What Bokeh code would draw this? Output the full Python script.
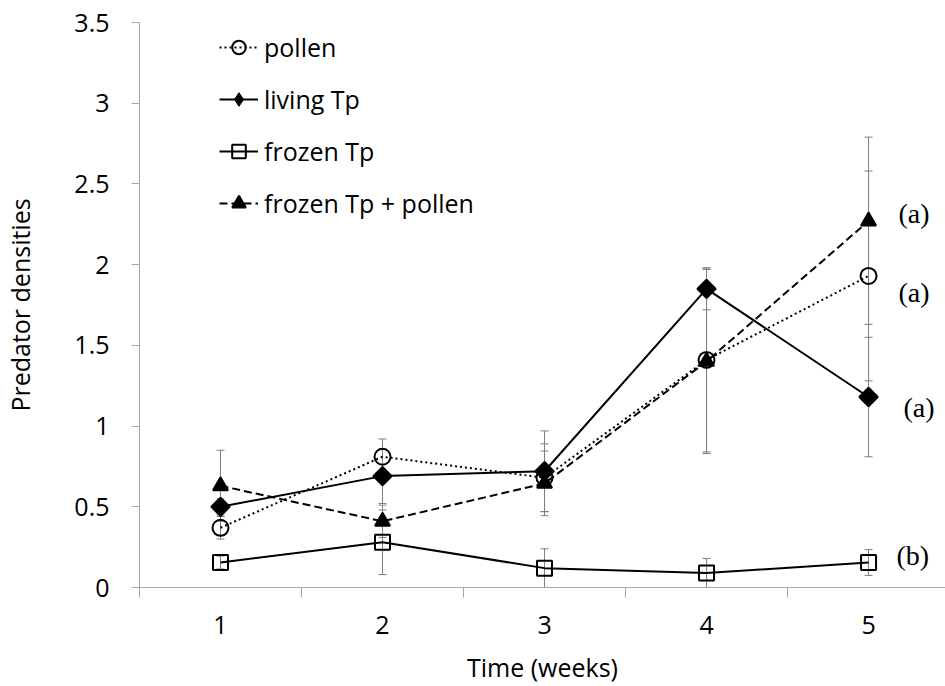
import math
from bokeh.plotting import figure
from bokeh.models import (ColumnDataSource, Range1d, FixedTicker, Legend, LegendItem,
                          Whisker, TeeHead)
from bokeh.core.properties import value
from bokeh.embed import file_html
from bokeh.resources import INLINE

# ---------------- data ----------------
weeks = [1, 2, 3, 4, 5]
week_labels = ["1", "2", "3", "4", "5"]
y_ticks = [0, 0.5, 1, 1.5, 2, 2.5, 3, 3.5]
y_tick_labels = ["0", "0.5", "1", "1.5", "2", "2.5", "3", "3.5"]

pollen = [0.37, 0.81, 0.68, 1.41, 1.93]
pollen_err_hi = [0.07, 0.11, 0.21, 0.57, 0.65]
pollen_err_lo = [0.07, 0.11, 0.21, 0.57, 0.65]

living_tp = [0.50, 0.69, 0.72, 1.85, 1.18]
living_tp_err_hi = [0.05, 0.17, 0.25, 0.13, 0.37]
living_tp_err_lo = [0.05, 0.17, 0.25, 0.13, 0.37]

frozen_tp = [0.155, 0.28, 0.12, 0.09, 0.155]
frozen_tp_err_hi = [0.04, 0.20, 0.12, 0.09, 0.08]
frozen_tp_err_lo = [0.04, 0.20, 0.12, 0.09, 0.08]

frozen_tp_pollen = [0.63, 0.41, 0.645, 1.40, 2.27]
frozen_tp_pollen_err_hi = [0.22, 0.10, 0.20, 0.57, 0.52]
frozen_tp_pollen_err_lo = [0.22, 0.10, 0.20, 0.57, 0.64]

series_names = ["pollen", "living Tp", "frozen Tp", "frozen Tp + pollen"]
group_letters = ["(a)", "(a)", "(b)", "(a)"]   # same order as series_names

FONT = "Open Sans"
FS = "25px"

p = figure(width=945, height=686, output_backend="svg", toolbar_location=None,
           x_range=Range1d(0.5, 5.475), y_range=Range1d(0, 3.5),
           min_border_left=134, min_border_right=0, min_border_top=22,
           min_border_bottom=99)
p.outline_line_color = None
p.xgrid.grid_line_color = None
p.ygrid.grid_line_color = None
p.background_fill_color = "white"

AX = "#a6a6a6"
# x axis: labels at category centres, tick marks at category boundaries
p.xaxis.ticker = FixedTicker(ticks=weeks,
                             minor_ticks=[w - 0.5 for w in weeks] + [weeks[-1] + 0.5])
p.xaxis.major_label_overrides = {w: l for w, l in zip(weeks, week_labels)}
p.xaxis.major_tick_line_color = None
p.xaxis.major_tick_out = 0
p.xaxis.major_tick_in = 0
p.xaxis.minor_tick_line_color = AX
p.xaxis.minor_tick_out = 10
p.xaxis.minor_tick_in = 0
p.xaxis.axis_line_color = AX
p.xaxis.major_label_text_font = FONT
p.xaxis.major_label_text_font_size = FS
p.xaxis.major_label_text_color = "black"
p.xaxis.major_label_standoff = 18
p.xaxis.axis_label = "Time (weeks)"
p.xaxis.axis_label_text_font = FONT
p.xaxis.axis_label_text_font_size = FS
p.xaxis.axis_label_text_font_style = "normal"
p.xaxis.axis_label_text_color = "black"
p.xaxis.axis_label_standoff = 13

p.yaxis.ticker = FixedTicker(ticks=y_ticks, minor_ticks=[])
p.yaxis.major_label_overrides = {t: l for t, l in zip(y_ticks, y_tick_labels)}
p.yaxis.major_tick_line_color = AX
p.yaxis.major_tick_out = 8
p.yaxis.major_tick_in = 0
p.yaxis.minor_tick_line_color = None
p.yaxis.axis_line_color = AX
p.yaxis.major_label_text_font = FONT
p.yaxis.major_label_text_font_size = FS
p.yaxis.major_label_text_color = "black"
p.yaxis.major_label_standoff = 22
p.yaxis.axis_label = "Predator densities"
p.yaxis.axis_label_text_font = FONT
p.yaxis.axis_label_text_font_size = FS
p.yaxis.axis_label_text_font_style = "normal"
p.yaxis.axis_label_text_color = "black"
p.yaxis.axis_label_standoff = 34

all_vals = [pollen, living_tp, frozen_tp, frozen_tp_pollen]
all_hi = [pollen_err_hi, living_tp_err_hi, frozen_tp_err_hi, frozen_tp_pollen_err_hi]
all_lo = [pollen_err_lo, living_tp_err_lo, frozen_tp_err_lo, frozen_tp_pollen_err_lo]

dashes = ["2 3", "solid", "solid", "8 4"]
markers = ["circle", "square", "square", "triangle"]
legend_markers = ["circle", "diamond", "square", "triangle"]
angles = [0, math.pi / 4, 0, 0]
sizes = [16, 13, 15, 15]
fills = [None, "black", None, "black"]

items = []
for name, vals, hi, lo, dash, mk, lmk, ang, sz, fc in zip(
        series_names, all_vals, all_hi, all_lo, dashes, markers, legend_markers,
        angles, sizes, fills):
    src = ColumnDataSource(dict(x=weeks, y=vals,
                                upper=[v + h for v, h in zip(vals, hi)],
                                lower=[max(v - l, 0) for v, l in zip(vals, lo)]))
    lr = p.line("x", "y", source=src, line_color="black", line_width=2, line_dash=dash)
    legend_r = [lr]
    if lmk != mk:
        # diamond used for the legend symbol; hidden under the rotated square in the plot
        dr = p.scatter("x", "y", source=src, marker=lmk, size=16,
                       line_color="black", line_width=1, fill_color="black")
        legend_r.append(dr)
    sr = p.scatter("x", "y", source=src, marker=mk, size=sz, angle=ang,
                   line_color="black", line_width=2,
                   fill_color=fc if fc else None)
    if lmk == mk:
        legend_r.append(sr)
    items.append(LegendItem(label=name, renderers=legend_r))
    p.add_layout(Whisker(source=src, base="x", upper="upper", lower="lower",
                         line_color="#7f7f7f", line_width=1,
                         upper_head=TeeHead(size=8, line_color="#7f7f7f", line_width=1),
                         lower_head=TeeHead(size=8, line_color="#7f7f7f", line_width=1)))

# legend: (x, y) = bottom-left corner measured from the frame's bottom-left
legend = Legend(items=items, location=(80, 367), padding=0, margin=0,
                spacing=18, glyph_width=39, glyph_height=34, label_height=34,
                label_standoff=6, border_line_color=None, background_fill_alpha=0,
                label_text_font=FONT, label_text_font_size=FS, label_text_color="black")
p.add_layout(legend)

# significance letters next to week-5 points
last_vals = [v[-1] for v in all_vals]
letter_yoff = [17, 10, -7, -8]
letter_xoff = [30, 35, 28, 30]
p.text(x=[weeks[-1]] * 4, y=last_vals, text=group_letters,
       x_offset=letter_xoff, y_offset=letter_yoff,
       text_font=value("Liberation Serif"), text_font_size="28px",
       text_align="left", text_baseline="middle", text_color="black")

open("out.html", "w").write(file_html(p, INLINE))
